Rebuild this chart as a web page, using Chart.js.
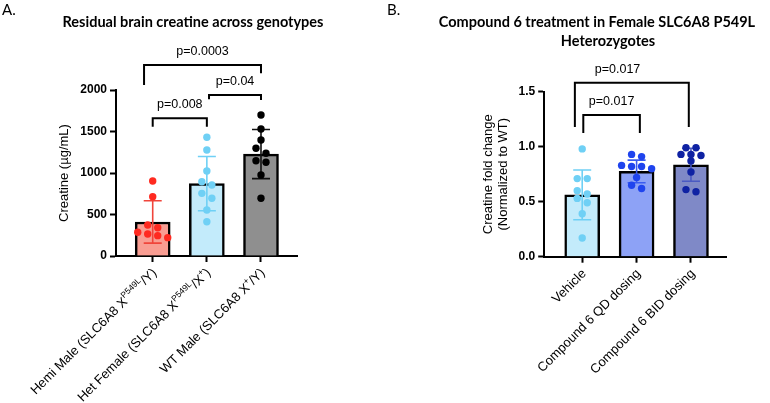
<!DOCTYPE html>
<html>
<head>
<meta charset="utf-8">
<script src="https://cdn.jsdelivr.net/npm/chart.js@4.4.1/dist/chart.umd.min.js"></script>
<style>
  html, body { margin: 0; padding: 0; background: #fff; }
  #wrap { position: relative; width: 770px; height: 403px; }
  canvas { position: absolute; top: 0; }
  #panelA { left: 0; }
  #panelB { left: 385px; }
</style>
</head>
<body>
<div id="wrap">
  <canvas id="panelA" width="385" height="403"></canvas>
  <canvas id="panelB" width="385" height="403"></canvas>
</div>
<script>
// --- panel A: residual brain creatine (ug/mL) ---
const genotypes = ['Hemi Male (SLC6A8 X^{P549L}/Y)', 'Het Female (SLC6A8 X^{P549L}/X^{+})', 'WT Male (SLC6A8 X^{+}/Y)'];
const hemiMale = [904, 715, 374, 341, 286, 265, 245, 221];
const hetFemale = [1430, 1277, 1024, 895, 856, 755, 695, 554, 413];
const wtMale = [1699, 1530, 1398, 1298, 1238, 1148, 1129, 976, 695];
const genoMean = [410, 872, 1228];
const genoSD = [255, 326, 296];
const creatineTicks = [0, 500, 1000, 1500, 2000];
const genoBrackets = [
  { from: 0, to: 1, y: 1659, legs: [1558, 1558], label: 'p=0.008' },
  { from: 1.04, to: 2, y: 1940, legs: [1888, 1880], label: 'p=0.04' },
  { from: -0.16, to: 2, y: 2302, legs: [2060, 2201], label: 'p=0.0003' }
];

// --- panel B: compound 6 in female heterozygotes (fold change vs WT) ---
const treatments = ['Vehicle', 'Compound 6 QD dosing', 'Compound 6 BID dosing'];
const vehicle = [0.98, 0.71, 0.71, 0.60, 0.57, 0.53, 0.49, 0.39, 0.17];
const qdDosing = [0.93, 0.91, 0.83, 0.82, 0.82, 0.80, 0.72, 0.65, 0.62];
const bidDosing = [0.99, 0.99, 0.93, 0.93, 0.92, 0.87, 0.77, 0.61, 0.59];
const treatMean = [0.562, 0.775, 0.836];
const treatSD = [0.226, 0.103, 0.15];
const foldTicks = [0, 0.5, 1.0, 1.5];
const treatBrackets = [
  { from: 0.02, to: 1.06, y: 1.288, legs: [1.125, 1.125], label: 'p=0.017' },
  { from: -0.135, to: 1.96, y: 1.582, legs: [1.18, 1.18], label: 'p=0.017', labelAt: 0.65 }
];

Chart.defaults.font.family = '"Liberation Sans", Arial, sans-serif';
Chart.defaults.color = '#000';

const ROW_H = 6;     // px: points closer than this share a row
const DOT_GAP = 10;  // px between dots in a row

// prism-like scatter: sort, group into rows, centre each row on the bar
function swarm(values, centre, pxX, pxY) {
  const order = values.map((v, i) => i).sort((a, b) => values[b] - values[a]);
  const out = new Array(values.length);
  let row = [];
  const flush = () => {
    row.forEach((idx, k) => {
      const off = (k - (row.length - 1) / 2) * DOT_GAP;
      out[idx] = { x: centre + off / pxX, y: values[idx] };
    });
    row = [];
  };
  order.forEach(idx => {
    if (row.length && (values[row[0]] - values[idx]) * pxY > ROW_H) flush();
    row.push(idx);
  });
  flush();
  return out;
}

function drawRichLabel(ctx, text, x, y) {
  const parts = text.split(/\^\{([^}]*)\}/);
  const base = '13px "Liberation Sans", Arial, sans-serif';
  const sup = '8.5px "Liberation Sans", Arial, sans-serif';
  let total = 0;
  const segs = parts.map((t, k) => {
    ctx.font = k % 2 ? sup : base;
    const w = ctx.measureText(t).width;
    total += w;
    return { t, w, sup: k % 2 === 1 };
  });
  ctx.save();
  ctx.translate(x, y);
  ctx.rotate(-Math.PI / 4);
  ctx.textAlign = 'left';
  ctx.textBaseline = 'middle';
  ctx.fillStyle = '#000';
  let cx = -total;
  segs.forEach(s => {
    ctx.font = s.sup ? sup : base;
    ctx.fillText(s.t, cx, s.sup ? -4.5 : 0);
    cx += s.w;
  });
  ctx.restore();
}

function buildPanel(id, o) {
  const plotW = 385 - o.padLeft - o.yWidth - o.padRight;
  const plotH = 403 - o.padTop - o.xHeight;
  const pxX = plotW / (o.xMax - o.xMin);
  const pxY = plotH / o.yMax;

  const datasets = [{
    type: 'bar',
    data: o.means.map((m, i) => ({ x: i, y: m })),
    backgroundColor: o.fills,
    borderColor: '#000',
    borderWidth: 2.5,
    barThickness: 35,
    order: 3
  }];
  o.groups.forEach((vals, i) => datasets.push({
    type: 'scatter',
    data: swarm(vals, i, pxX, pxY),
    pointRadius: 3.7,
    pointBackgroundColor: o.dots[i],
    pointBorderWidth: 0,
    order: 1
  }));

  const errorBars = {
    id: 'errorBars',
    afterDatasetDraw(chart, args) {
      if (args.index !== 0) return;
      const { ctx, scales: { x, y } } = chart;
      ctx.save();
      ctx.lineWidth = 1.6;
      o.means.forEach((m, i) => {
        const px = x.getPixelForValue(i);
        const top = y.getPixelForValue(m + o.sds[i]);
        const bot = y.getPixelForValue(m - o.sds[i]);
        ctx.strokeStyle = o.errColors[i];
        ctx.beginPath();
        ctx.moveTo(px, top); ctx.lineTo(px, bot);
        ctx.moveTo(px - 9, top); ctx.lineTo(px + 9, top);
        ctx.moveTo(px - 9, bot); ctx.lineTo(px + 9, bot);
        ctx.stroke();
      });
      ctx.restore();
    }
  };

  const annotations = {
    id: 'annotations',
    afterDraw(chart) {
      const { ctx, scales: { x, y }, chartArea } = chart;
      ctx.save();
      // significance brackets
      ctx.strokeStyle = '#000';
      ctx.lineWidth = 2;
      ctx.fillStyle = '#000';
      ctx.font = '12.5px "Liberation Sans", Arial, sans-serif';
      ctx.textAlign = 'center';
      ctx.textBaseline = 'middle';
      o.brackets.forEach(b => {
        const x1 = x.getPixelForValue(b.from), x2 = x.getPixelForValue(b.to);
        const yt = y.getPixelForValue(b.y);
        ctx.beginPath();
        ctx.moveTo(x1, y.getPixelForValue(b.legs[0]));
        ctx.lineTo(x1, yt);
        ctx.lineTo(x2, yt);
        ctx.lineTo(x2, y.getPixelForValue(b.legs[1]));
        ctx.stroke();
        const lx = b.labelAt !== undefined ? x.getPixelForValue(b.labelAt) : (x1 + x2) / 2;
        ctx.fillText(b.label, lx, yt - 13.5);
      });
      // category labels, rotated
      o.labels.forEach((lab, i) => {
        drawRichLabel(ctx, lab, x.getPixelForValue(i) + 2, chartArea.bottom + 15);
      });
      // panel letter and title
      ctx.textAlign = 'left';
      ctx.textBaseline = 'alphabetic';
      ctx.font = '15px Lato, "Open Sans", sans-serif';
      ctx.fillText(o.letter, 2, 15);
      ctx.textAlign = 'center';
      ctx.font = 'bold 14.5px Lato, "Open Sans", sans-serif';
      o.title.forEach((line, k) => ctx.fillText(line, o.titleX[k], 27 + k * 18.5));
      ctx.restore();
    }
  };

  return new Chart(document.getElementById(id), {
    type: 'bar',
    data: { datasets },
    options: {
      responsive: false,
      animation: false,
      layout: { padding: { left: o.padLeft, right: o.padRight, top: o.padTop, bottom: 0 } },
      plugins: { legend: { display: false }, tooltip: { enabled: false } },
      scales: {
        x: {
          type: 'linear',
          offset: false,
          min: o.xMin,
          max: o.xMax,
          afterBuildTicks: ax => { ax.ticks = o.labels.map((_, i) => ({ value: i })); },
          afterFit: ax => { ax.height = o.xHeight; },
          ticks: { display: false },
          grid: { offset: false, drawOnChartArea: false, drawTicks: true, tickLength: 6, tickWidth: 2, tickColor: '#000' },
          border: { color: '#000', width: 2 }
        },
        y: {
          min: 0,
          max: o.yMax,
          afterBuildTicks: ax => { ax.ticks = o.ticks.map(v => ({ value: v })); },
          afterFit: ax => { ax.width = o.yWidth; },
          ticks: { color: '#000', padding: 3, font: { size: 12, weight: 'bold' }, callback: o.tickFmt },
          grid: { drawOnChartArea: false, drawTicks: true, tickLength: 6, tickWidth: 2, tickColor: '#000' },
          border: { color: '#000', width: 2 },
          title: { display: true, text: o.yTitle, color: '#000', font: { size: 13 }, padding: { top: 4, bottom: 0 } }
        }
      }
    },
    plugins: [errorBars, annotations]
  });
}

buildPanel('panelA', {
  labels: genotypes,
  groups: [hemiMale, hetFemale, wtMale],
  means: genoMean,
  sds: genoSD,
  ticks: creatineTicks,
  tickFmt: v => String(v),
  brackets: genoBrackets,
  yMax: 2000,
  yTitle: 'Creatine (\u00b5g/mL)',
  letter: 'A.',
  title: ['Residual brain creatine across genotypes'],
  titleX: [193],
  fills: ['#f99d92', '#c3ebfb', '#8f8f8f'],
  dots: ['#ff2a20', '#6fd0f5', '#000000'],
  errColors: ['#f0453b', '#6fd0f5', '#111111'],
  padLeft: 53, yWidth: 63, padRight: 88, padTop: 90, xHeight: 147,
  xMin: -0.678, xMax: 2.665
});

buildPanel('panelB', {
  labels: treatments,
  groups: [vehicle, qdDosing, bidDosing],
  means: treatMean,
  sds: treatSD,
  ticks: foldTicks,
  tickFmt: v => v.toFixed(1),
  brackets: treatBrackets,
  yMax: 1.5,
  yTitle: ['Creatine fold change', '(Normalized to WT)'],
  letter: 'B.',
  title: ['Compound 6 treatment in Female SLC6A8 P549L', 'Heterozygotes'],
  titleX: [212, 223],
  fills: ['#c3ebfb', '#8da2f6', '#7f89c7'],
  dots: ['#6fd0f5', '#1f44ee', '#0f22a3'],
  errColors: ['#6fd0f5', '#3b5cf0', '#4a5ac2'],
  padLeft: 91.2, yWidth: 68, padRight: 43.3, padTop: 91.7, xHeight: 146.3,
  xMin: -0.699, xMax: 2.657
});
</script>
</body>
</html>
